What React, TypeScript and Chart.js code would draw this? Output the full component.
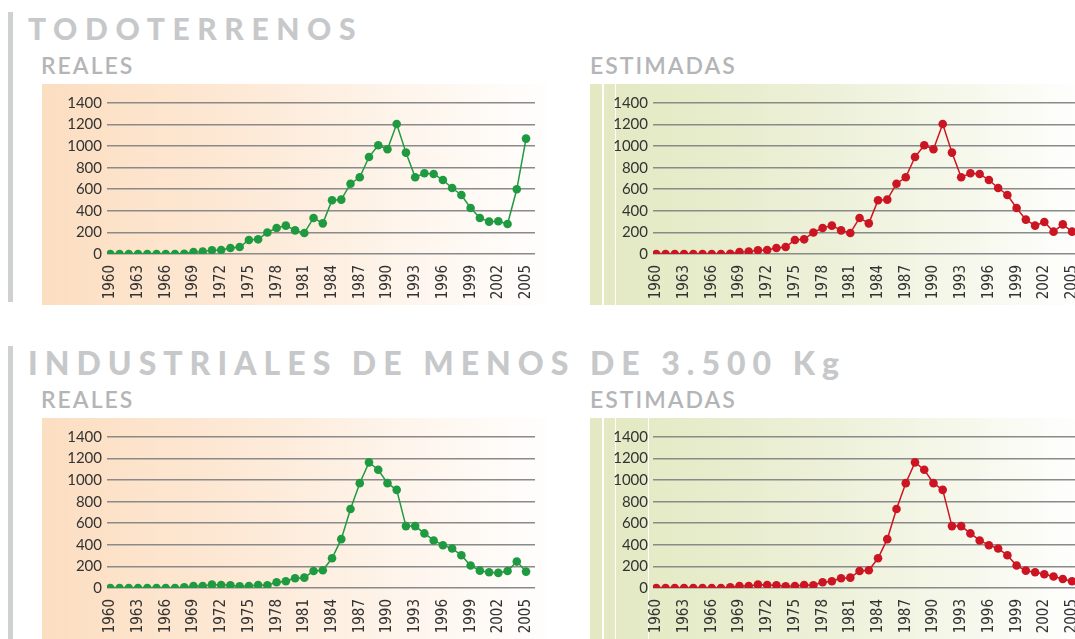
import React, { useEffect, useRef } from 'react';
import { Chart, registerables } from 'chart.js';
Chart.register(...registerables);

// ---------- DATA ----------
const years = [
  1960, 1961, 1962, 1963, 1964, 1965, 1966, 1967, 1968, 1969,
  1970, 1971, 1972, 1973, 1974, 1975, 1976, 1977, 1978, 1979,
  1980, 1981, 1982, 1983, 1984, 1985, 1986, 1987, 1988, 1989,
  1990, 1991, 1992, 1993, 1994, 1995, 1996, 1997, 1998, 1999,
  2000, 2001, 2002, 2003, 2004, 2005,
];
const xTickYears = [1960, 1963, 1966, 1969, 1972, 1975, 1978, 1981, 1984, 1987, 1990, 1993, 1996, 1999, 2002, 2005];
const yTickValues = [0, 200, 400, 600, 800, 1000, 1200, 1400];

const todoterrenosReales = [
  0, 0, 0, 0, 0, 0, 0, 0, 3, 18,
  22, 34, 37, 56, 65, 130, 136, 200, 241, 263,
  219, 195, 334, 284, 498, 504, 652, 711, 899, 1008,
  971, 1205, 940, 711, 748, 742, 686, 612, 547, 427,
  334, 300, 303, 278, 600, 1070,
];
const todoterrenosEstimadas = [
  0, 0, 0, 0, 0, 0, 0, 0, 3, 18,
  22, 34, 37, 56, 65, 130, 136, 200, 241, 263,
  219, 195, 334, 284, 498, 504, 652, 711, 899, 1008,
  971, 1205, 940, 711, 748, 742, 686, 612, 547, 427,
  319, 263, 297, 207, 275, 207,
];
const industrialesReales = [
  0, 0, 0, 0, 0, 0, 0, 0, 6, 19,
  19, 31, 28, 25, 16, 19, 28, 25, 53, 62,
  90, 96, 158, 165, 276, 453, 733, 972, 1165, 1096,
  972, 910, 574, 574, 506, 441, 397, 366, 304, 208,
  161, 146, 140, 158, 245, 152,
];
const industrialesEstimadas = [
  0, 0, 0, 0, 0, 0, 0, 0, 6, 19,
  19, 31, 28, 25, 16, 19, 28, 25, 53, 62,
  90, 96, 158, 165, 276, 453, 733, 972, 1165, 1096,
  972, 910, 574, 574, 506, 441, 397, 366, 304, 208,
  161, 146, 127, 106, 84, 62,
];

const titles = ['TODOTERRENOS', 'INDUSTRIALES DE MENOS DE 3.500 Kg'];
const subTitles = ['REALES', 'ESTIMADAS'];

const GREEN = '#1f9a41';
const RED = '#cc1522';
const FONT = "Lato, 'Open Sans', sans-serif";
const NARROW = "'Liberation Sans Narrow', 'DejaVu Sans Condensed', Lato, sans-serif";

// ---------- CHART ----------
function LineChart(props: { values: number[]; color: string; left: number; top: number; padTop: number; height: number }) {
  const ref = useRef<HTMLCanvasElement | null>(null);
  useEffect(() => {
    const canvas = ref.current;
    if (!canvas) return;
    const areaH = 151;
    const xH = props.height - props.padTop - areaH;
    const chart = new Chart(canvas, {
      type: 'line',
      data: {
        datasets: [
          {
            data: years.map((y, i) => ({ x: y, y: props.values[i] })),
            borderColor: props.color,
            backgroundColor: props.color,
            pointBackgroundColor: props.color,
            pointBorderWidth: 0,
            pointRadius: 4.3,
            borderWidth: 1.5,
            tension: 0,
          },
        ],
      },
      options: {
        animation: false,
        responsive: false,
        maintainAspectRatio: false,
        layout: { padding: { top: props.padTop, right: 13, left: 0, bottom: 0 } },
        plugins: { legend: { display: false }, tooltip: { enabled: false } },
        scales: {
          x: {
            type: 'linear',
            min: 1959.64,
            max: 2005.97,
            grid: { display: false, drawTicks: false },
            border: { display: false },
            afterBuildTicks: (s: any) => {
              s.ticks = xTickYears.map((v) => ({ value: v }));
            },
            afterFit: (s: any) => {
              s.height = xH;
              s.paddingLeft = 0;
              s.paddingRight = 0;
            },
            ticks: {
              autoSkip: false,
              minRotation: 90,
              maxRotation: 90,
              padding: 11,
              color: '#333333',
              font: { family: NARROW, size: 15 },
              callback: (v: any) => String(v),
            },
          },
          y: {
            type: 'linear',
            min: 0,
            max: 1400,
            grid: { color: '#8a8a8a', lineWidth: 1.6, drawTicks: false },
            border: { display: false },
            afterBuildTicks: (s: any) => {
              s.ticks = yTickValues.map((v) => ({ value: v }));
            },
            afterFit: (s: any) => {
              s.width = 65;
              s.paddingTop = 0;
              s.paddingBottom = 0;
            },
            ticks: {
              padding: 5,
              color: '#333333',
              font: { family: FONT, size: 15 },
              callback: (v: any) => String(v),
            },
          },
        },
      },
    } as any);
    return () => chart.destroy();
  }, []);
  return (
    <canvas
      ref={ref}
      width={506}
      height={props.height}
      style={{ position: 'absolute', left: props.left, top: props.top, width: 506, height: props.height, display: 'block' }}
    />
  );
}

function Title(props: { text: string; top: number; size: number; spacing: number }) {
  return (
    <div
      style={{
        position: 'absolute',
        left: 28,
        top: props.top,
        fontFamily: FONT,
        fontWeight: 900,
        fontSize: props.size,
        lineHeight: 1,
        letterSpacing: props.spacing,
        color: '#c7c8ca',
        whiteSpace: 'nowrap',
      }}
    >
      {props.text}
    </div>
  );
}

function Sub(props: { text: string; left: number; top: number }) {
  return (
    <div
      style={{
        position: 'absolute',
        left: props.left,
        top: props.top,
        fontFamily: FONT,
        fontWeight: 600,
        fontSize: 23,
        lineHeight: 1,
        letterSpacing: 2,
        color: '#b4b5b7',
        whiteSpace: 'nowrap',
      }}
    >
      {props.text}
    </div>
  );
}

function Section(props: { y: number; title: string; titleSize: number; titleSpacing: number; reales: number[]; estimadas: number[]; extraLine: boolean; barH: number }) {
  const y = props.y;
  return (
    <>
      <div style={{ position: 'absolute', left: 8, top: y + 12, width: 5, height: props.barH, background: '#cfd0d2' }} />
      <Title text={props.title} top={y + 13} size={props.titleSize} spacing={props.titleSpacing} />
      <Sub text={subTitles[0]} left={41} top={y + 54} />
      <Sub text={subTitles[1]} left={590} top={y + 54} />
      <div
        style={{
          position: 'absolute',
          left: 42,
          top: y + 84,
          width: 506,
          height: 221,
          background: 'linear-gradient(90deg, #fcdec1 0%, #fde9d6 40%, #fef6ee 75%, #fffefd 100%)',
        }}
      />
      <div
        style={{
          position: 'absolute',
          left: 590,
          top: y + 84,
          width: 500,
          height: 221,
          background: 'linear-gradient(90deg, #e4e9c3 0%, #e6ebc9 20%, #eef1da 50%, #f8f9ef 80%, #ffffff 100%)',
        }}
      />
      <div style={{ position: 'absolute', left: 602, top: y + 84, width: 1.5, height: 221, background: '#ffffff' }} />
      <div style={{ position: 'absolute', left: 614.5, top: y + 84, width: 1.5, height: 221, background: '#ffffff' }} />
      {props.extraLine ? (
        <div style={{ position: 'absolute', left: 647.5, top: y + 84, width: 1.5, height: 221, background: '#ffffff' }} />
      ) : null}
      <LineChart values={props.reales} color={GREEN} left={42} top={y + 84} padTop={19} height={221} />
      <LineChart values={props.estimadas} color={RED} left={588} top={y + 84} padTop={19} height={221} />
    </>
  );
}

export default function App() {
  return (
    <div style={{ position: 'fixed', left: 0, top: 0, width: 1075, height: 639, overflow: 'hidden', background: '#ffffff' }}>
      <Section y={0} title={titles[0]} titleSize={30} titleSpacing={7.6} reales={todoterrenosReales} estimadas={todoterrenosEstimadas} extraLine={false} barH={290} />
      <Section y={333.5} title={titles[1]} titleSize={32} titleSpacing={7.0} reales={industrialesReales} estimadas={industrialesEstimadas} extraLine={true} barH={310} />
    </div>
  );
}
